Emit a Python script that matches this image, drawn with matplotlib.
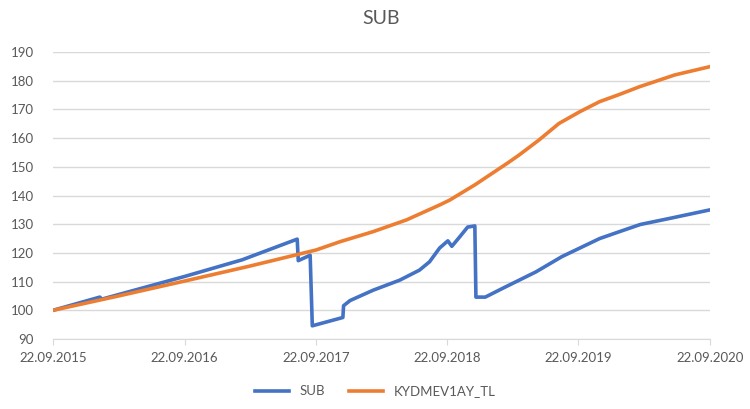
import matplotlib
matplotlib.use("Agg")
import matplotlib.pyplot as plt
import matplotlib.dates as mdates
import numpy as np
import pandas as pd

# SUB series (date, value)
sub_dates = ["2015-09-22", "2016-01-30", "2016-02-05", "2016-09-22", "2017-03-01",
             "2017-08-01", "2017-08-04", "2017-09-06", "2017-09-12", "2017-12-06",
             "2017-12-08", "2017-12-26", "2018-02-28", "2018-05-13", "2018-07-07",
             "2018-08-04", "2018-09-01", "2018-09-24", "2018-10-05", "2018-10-27",
             "2018-11-18", "2018-12-08", "2018-12-11", "2019-01-06", "2019-02-24",
             "2019-05-27", "2019-08-07", "2019-11-20", "2020-01-14", "2020-03-12",
             "2020-06-01", "2020-09-22"]
sub_vals = [100.0, 104.6, 103.9, 111.8, 117.6,
            124.8, 117.3, 119.2, 94.6, 97.5,
            101.6, 103.4, 107.0, 110.5, 114.0,
            116.9, 121.7, 124.2, 122.3, 125.6,
            129.0, 129.4, 104.6, 104.6, 107.7,
            113.4, 118.7, 125.0, 127.4, 129.9,
            132.0, 135.0]

# KYDMEV1AY_TL series
ref_dates = ["2015-09-22", "2016-03-22", "2016-09-22", "2017-03-22", "2017-09-22",
             "2017-11-28", "2018-02-28", "2018-06-01", "2018-09-01", "2018-09-29",
             "2018-12-08", "2019-03-09", "2019-04-10", "2019-06-04", "2019-07-30",
             "2019-09-26", "2019-11-20", "2020-01-14", "2020-03-10", "2020-06-16",
             "2020-09-22"]
ref_vals = [100.0, 105.0, 110.2, 115.4, 121.0,
            123.9, 127.4, 131.5, 136.7, 138.4,
            143.7, 151.3, 154.1, 159.3, 165.1,
            169.2, 172.7, 175.2, 177.9, 182.0,
            184.9]

tick_dates = ["2015-09-22", "2016-09-22", "2017-09-22", "2018-09-22", "2019-09-22", "2020-09-22"]

BLUE, ORANGE, GREY, GRID = "#4472C4", "#ED7D31", "#595959", "#D9D9D9"
plt.rcParams["font.family"] = ["Lato", "DejaVu Sans"]

fig = plt.figure(figsize=(7.5, 4.09), dpi=100)
ax = fig.add_axes([0.0707, 0.1711, 0.876, 0.7018])

ax.plot(pd.to_datetime(sub_dates), sub_vals, color=BLUE, lw=2.6, label="SUB")
ax.plot(pd.to_datetime(ref_dates), ref_vals, color=ORANGE, lw=2.6, label="KYDMEV1AY_TL")

ticks = pd.to_datetime(tick_dates)
ax.set_xlim(ticks[0], ticks[-1])
ax.set_xticks(ticks)
ax.xaxis.set_major_formatter(mdates.DateFormatter("%d.%m.%Y"))
ax.set_ylim(90, 190)
ax.set_yticks(np.arange(90, 191, 10))

ax.grid(axis="y", color=GRID, lw=1)
ax.set_axisbelow(True)
for s in ["top", "right", "left"]:
    ax.spines[s].set_visible(False)
ax.spines["bottom"].set_color(GRID)
ax.tick_params(axis="y", length=0, labelsize=9.5, labelcolor=GREY, pad=14)
ax.tick_params(axis="x", length=4, color=GRID, labelsize=9.5, labelcolor=GREY, pad=5)

ax.set_title("SUB", color=GREY, fontsize=14, pad=20)
fig.legend(loc="lower center", bbox_to_anchor=(0.5, 0.0), ncol=2, frameon=False,
           fontsize=9.5, labelcolor=GREY, handlelength=2.6, columnspacing=1.8)

fig.savefig("out.png", dpi=100)
